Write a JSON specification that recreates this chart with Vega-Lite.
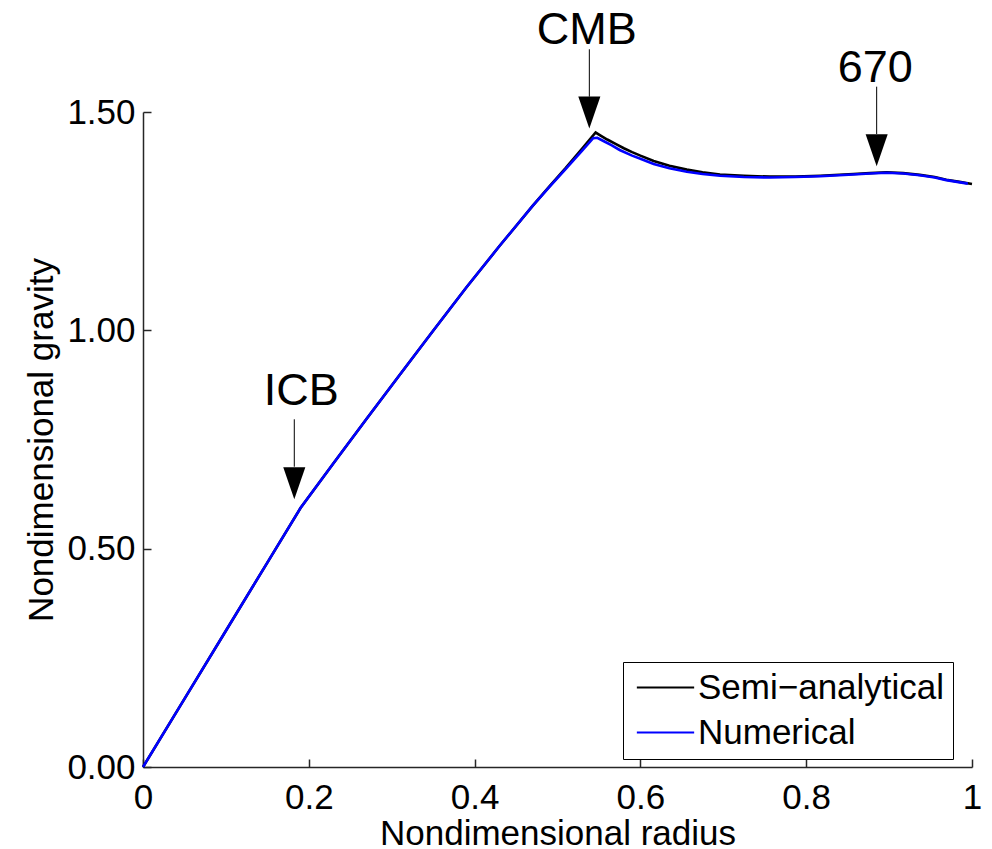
{
  "$schema": "https://vega.github.io/schema/vega-lite/v6.json",
  "width": 829,
  "height": 655,
  "autosize": {"type": "none"},
  "padding": {"left": 143, "top": 112, "right": 20, "bottom": 82},
  "background": "white",
  "config": {
    "view": {"stroke": null},
    "font": "Liberation Sans",
    "axis": {
      "grid": false,
      "domainColor": "#262626",
      "domainWidth": 1.5,
      "tickColor": "#262626",
      "tickWidth": 1.5,
      "tickSize": -8,
      "labelFontSize": 35,
      "labelColor": "black",
      "titleFontSize": 35,
      "titleFontWeight": "normal",
      "titleColor": "black",
      "labelFlush": false,
      "labelOverlap": false,
      "labelBound": false
    },
    "legend": {"labelFont": "Liberation Sans"}
  },
  "datasets": {
    "curves": [
      {"model": "Semi−analytical", "r": 0.0, "g": 0.0},
      {"model": "Semi−analytical", "r": 0.05, "g": 0.156},
      {"model": "Semi−analytical", "r": 0.1, "g": 0.312},
      {"model": "Semi−analytical", "r": 0.15, "g": 0.468},
      {"model": "Semi−analytical", "r": 0.19, "g": 0.593},
      {"model": "Semi−analytical", "r": 0.23, "g": 0.696},
      {"model": "Semi−analytical", "r": 0.27, "g": 0.798},
      {"model": "Semi−analytical", "r": 0.31, "g": 0.899},
      {"model": "Semi−analytical", "r": 0.35, "g": 0.999},
      {"model": "Semi−analytical", "r": 0.39, "g": 1.098},
      {"model": "Semi−analytical", "r": 0.43, "g": 1.193},
      {"model": "Semi−analytical", "r": 0.47, "g": 1.285},
      {"model": "Semi−analytical", "r": 0.49, "g": 1.329},
      {"model": "Semi−analytical", "r": 0.51, "g": 1.372},
      {"model": "Semi−analytical", "r": 0.53, "g": 1.417},
      {"model": "Semi−analytical", "r": 0.546, "g": 1.453},
      {"model": "Semi−analytical", "r": 0.552, "g": 1.446},
      {"model": "Semi−analytical", "r": 0.56, "g": 1.437},
      {"model": "Semi−analytical", "r": 0.57, "g": 1.427},
      {"model": "Semi−analytical", "r": 0.58, "g": 1.417},
      {"model": "Semi−analytical", "r": 0.59, "g": 1.408},
      {"model": "Semi−analytical", "r": 0.6, "g": 1.400},
      {"model": "Semi−analytical", "r": 0.616, "g": 1.388},
      {"model": "Semi−analytical", "r": 0.635, "g": 1.377},
      {"model": "Semi−analytical", "r": 0.656, "g": 1.368},
      {"model": "Semi−analytical", "r": 0.675, "g": 1.362},
      {"model": "Semi−analytical", "r": 0.696, "g": 1.357},
      {"model": "Semi−analytical", "r": 0.725, "g": 1.354},
      {"model": "Semi−analytical", "r": 0.756, "g": 1.352},
      {"model": "Semi−analytical", "r": 0.787, "g": 1.352},
      {"model": "Semi−analytical", "r": 0.817, "g": 1.354},
      {"model": "Semi−analytical", "r": 0.857, "g": 1.358},
      {"model": "Semi−analytical", "r": 0.877, "g": 1.360},
      {"model": "Semi−analytical", "r": 0.897, "g": 1.362},
      {"model": "Semi−analytical", "r": 0.917, "g": 1.360},
      {"model": "Semi−analytical", "r": 0.937, "g": 1.356},
      {"model": "Semi−analytical", "r": 0.955, "g": 1.351},
      {"model": "Semi−analytical", "r": 0.969, "g": 1.345},
      {"model": "Semi−analytical", "r": 0.985, "g": 1.340},
      {"model": "Semi−analytical", "r": 1.0, "g": 1.335},
      {"model": "Numerical", "r": 0.0, "g": 0.0},
      {"model": "Numerical", "r": 0.05, "g": 0.156},
      {"model": "Numerical", "r": 0.1, "g": 0.312},
      {"model": "Numerical", "r": 0.15, "g": 0.468},
      {"model": "Numerical", "r": 0.19, "g": 0.593},
      {"model": "Numerical", "r": 0.23, "g": 0.696},
      {"model": "Numerical", "r": 0.27, "g": 0.798},
      {"model": "Numerical", "r": 0.31, "g": 0.899},
      {"model": "Numerical", "r": 0.35, "g": 0.999},
      {"model": "Numerical", "r": 0.39, "g": 1.098},
      {"model": "Numerical", "r": 0.43, "g": 1.193},
      {"model": "Numerical", "r": 0.47, "g": 1.285},
      {"model": "Numerical", "r": 0.49, "g": 1.328},
      {"model": "Numerical", "r": 0.51, "g": 1.370},
      {"model": "Numerical", "r": 0.53, "g": 1.412},
      {"model": "Numerical", "r": 0.543, "g": 1.440},
      {"model": "Numerical", "r": 0.548, "g": 1.441},
      {"model": "Numerical", "r": 0.556, "g": 1.433},
      {"model": "Numerical", "r": 0.565, "g": 1.424},
      {"model": "Numerical", "r": 0.575, "g": 1.413},
      {"model": "Numerical", "r": 0.59, "g": 1.400},
      {"model": "Numerical", "r": 0.6, "g": 1.393},
      {"model": "Numerical", "r": 0.616, "g": 1.381},
      {"model": "Numerical", "r": 0.635, "g": 1.371},
      {"model": "Numerical", "r": 0.656, "g": 1.363},
      {"model": "Numerical", "r": 0.675, "g": 1.358},
      {"model": "Numerical", "r": 0.696, "g": 1.354},
      {"model": "Numerical", "r": 0.725, "g": 1.351},
      {"model": "Numerical", "r": 0.756, "g": 1.350},
      {"model": "Numerical", "r": 0.787, "g": 1.351},
      {"model": "Numerical", "r": 0.817, "g": 1.353},
      {"model": "Numerical", "r": 0.857, "g": 1.357},
      {"model": "Numerical", "r": 0.877, "g": 1.359},
      {"model": "Numerical", "r": 0.897, "g": 1.361},
      {"model": "Numerical", "r": 0.917, "g": 1.359},
      {"model": "Numerical", "r": 0.937, "g": 1.355},
      {"model": "Numerical", "r": 0.955, "g": 1.350},
      {"model": "Numerical", "r": 0.969, "g": 1.344},
      {"model": "Numerical", "r": 0.995, "g": 1.336}
    ],
    "notes": [
      {"label": "ICB", "xa": 0.1825, "xt": 0.191, "yt": 0.829, "ystem": 0.7963, "yhead": 0.6877, "yhc": 0.6496},
      {"label": "CMB", "xa": 0.5384, "xt": 0.5352, "yt": 1.6557, "ystem": 1.6437, "yhead": 1.535, "yhc": 1.4989},
      {"label": "670", "xa": 0.885, "xt": 0.8833, "yt": 1.5694, "ystem": 1.558, "yhead": 1.4496, "yhc": 1.4122}
    ]
  },
  "layer": [
    {
      "data": {"name": "curves"},
      "mark": {"type": "line", "strokeWidth": 2.6},
      "encoding": {
        "x": {
          "field": "r", "type": "quantitative",
          "scale": {"domain": [0, 1], "nice": false, "zero": false},
          "axis": {"values": [0, 0.2, 0.4, 0.6, 0.8, 1], "format": "~g", "labelPadding": 21, "title": "Nondimensional radius", "titlePadding": 1}
        },
        "y": {
          "field": "g", "type": "quantitative",
          "scale": {"domain": [0, 1.5], "nice": false},
          "axis": {"values": [0, 0.5, 1, 1.5], "format": ".2f", "labelPadding": 16, "title": "Nondimensional gravity", "titlePadding": 7}
        },
        "color": {
          "field": "model", "type": "nominal",
          "scale": {"domain": ["Semi−analytical", "Numerical"], "range": ["#000000", "#0000ff"]},
          "legend": {
            "orient": "none", "legendX": 480, "legendY": 550, "title": null,
            "symbolType": "M-2,0L2,0", "symbolSize": 821, "symbolStrokeWidth": 2,
            "labelFontSize": 35, "labelColor": "black", "labelOffset": 15, "labelLimit": 0,
            "strokeColor": "black", "fillColor": "white", "padding": 8, "rowPadding": 9, "symbolOffset": 17
          }
        }
      }
    },
    {
      "data": {"name": "notes"},
      "mark": {"type": "rule", "color": "black", "strokeWidth": 1},
      "encoding": {
        "x": {"field": "xa", "type": "quantitative"},
        "y": {"field": "ystem", "type": "quantitative"},
        "y2": {"field": "yhead"}
      }
    },
    {
      "data": {"name": "notes"},
      "mark": {"type": "point", "shape": "M-0.69,-1L0.69,-1L0,1Z", "filled": true, "color": "black", "opacity": 1, "size": 1024},
      "encoding": {
        "x": {"field": "xa", "type": "quantitative"},
        "y": {"field": "yhc", "type": "quantitative"}
      }
    },
    {
      "data": {"name": "notes"},
      "mark": {"type": "text", "fontSize": 45, "baseline": "alphabetic", "align": "center", "color": "black"},
      "encoding": {
        "x": {"field": "xt", "type": "quantitative"},
        "y": {"field": "yt", "type": "quantitative"},
        "text": {"field": "label"}
      }
    }
  ]
}
